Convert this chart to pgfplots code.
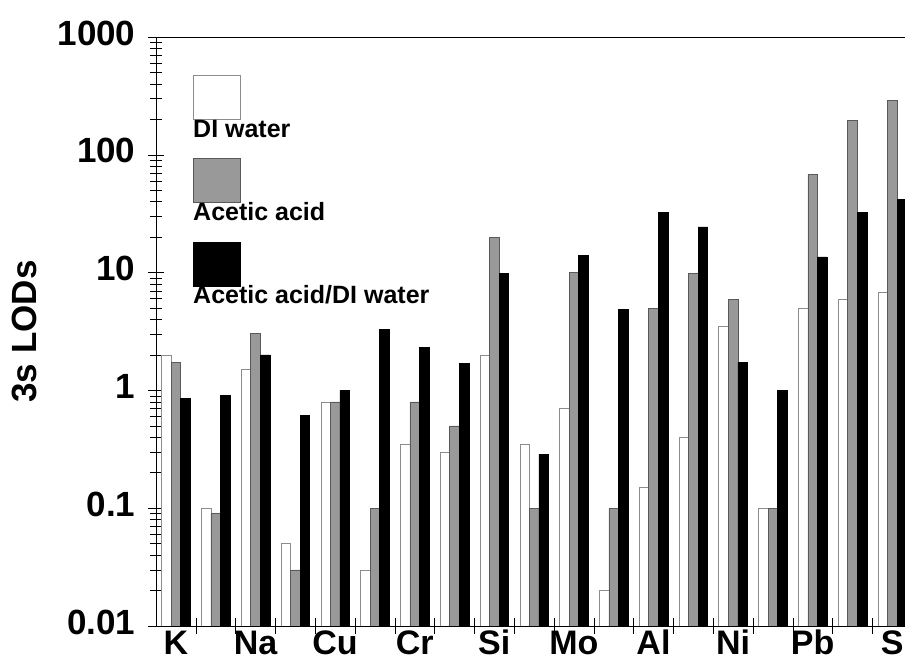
\documentclass[border=0pt]{standalone}
\usepackage{fontspec}
\setmainfont{Liberation Sans}
\usepackage{pgfplots}
\pgfplotsset{compat=1.18}
\definecolor{wedge}{gray}{0.55}
\definecolor{gfill}{gray}{0.6}
\definecolor{gedge}{gray}{0.35}
\begin{document}
\begin{tikzpicture}
\begin{axis}[
  at={(0pt,0pt)}, anchor=south west,
  scale only axis, width=749pt, height=589pt,
  ymode=log, ymin=0.01, ymax=1000, log origin=infty,
  xmin=-0.5, xmax=18.32,
  axis x line=box, axis y line=left,
  axis line style={-, black, line width=0.6pt},
  ybar=0pt, bar width=0.24,
  xtick={0.5,1.5,...,17.5}, xticklabels={},
  extra x ticks={0,2,...,18},
  extra x tick labels={K,Na,Cu,Cr,Si,Mo,Al,Ni,Pb,S},
  extra x tick style={major tick length=0pt,
    tick label style={font=\fontsize{34}{36}\selectfont\bfseries,
      text height=24.3pt, text depth=0pt, inner sep=1pt, anchor=north, yshift=-2.7pt}},
  xtick pos=left, ytick pos=left,
  ytick={0.01,0.1,1,10,100,1000},
  yticklabels={0.01,0.1,1,10,100,1000},
  minor ytick={0.02,0.03,0.04,0.05,0.06,0.07,0.08,0.09,
               0.2,0.3,0.4,0.5,0.6,0.7,0.8,0.9,
               2,3,4,5,6,7,8,9,
               20,30,40,50,60,70,80,90,
               200,300,400,500,600,700,800,900},
  tick align=center, major tick length=16pt, minor tick length=12pt,
  tick style={black, line width=0.5pt},
  yticklabel style={font=\fontsize{35}{38}\selectfont\bfseries, yshift=4pt, xshift=-9pt},
  ylabel={3s LODs},
  ylabel style={font=\fontsize{35}{38}\selectfont\bfseries,
    at={(axis description cs:-0.1756,0.5)}, anchor=center},
]
% DI water
\addplot[fill=white, draw=wedge, line width=0.5pt] coordinates {
 (0,2.0) (1,0.1) (2,1.5) (3,0.05) (4,0.8) (5,0.03) (6,0.35) (7,0.3) (8,2.0)
 (9,0.35) (10,0.7) (11,0.02) (12,0.15) (13,0.4) (14,3.5) (15,0.1) (16,5.0) (17,5.9) (18,6.8)};
% Acetic acid
\addplot[fill=gfill, draw=gedge, line width=0.5pt] coordinates {
 (0,1.72) (1,0.09) (2,3.05) (3,0.03) (4,0.8) (5,0.1) (6,0.8) (7,0.5) (8,19.8)
 (9,0.1) (10,10) (11,0.1) (12,5.0) (13,9.9) (14,5.9) (15,0.1) (16,68) (17,195) (18,290)};
% Acetic acid/DI water
\addplot[fill=black, draw=black, line width=0.5pt] coordinates {
 (0,0.86) (1,0.91) (2,2.0) (3,0.61) (4,1.0) (5,3.3) (6,2.32) (7,1.69) (8,9.9)
 (9,0.286) (10,14.0) (11,4.9) (12,32.5) (13,24.5) (14,1.73) (15,1.0) (16,13.6) (17,32.5) (18,42)};
\end{axis}
% legend
\begin{scope}[font=\fontsize{25}{28}\selectfont\bfseries]
\filldraw[fill=white, draw=wedge, line width=0.6pt] (37pt,507pt) rectangle (84pt,551pt);
\node[anchor=base west, inner sep=0pt] at (37pt,488.7pt) {DI water};
\filldraw[fill=gfill, draw=gedge, line width=0.6pt] (37pt,423.5pt) rectangle (84pt,467.5pt);
\node[anchor=base west, inner sep=0pt] at (37pt,405.3pt) {Acetic acid};
\filldraw[fill=black, draw=black] (37pt,340pt) rectangle (84pt,384pt);
\node[anchor=base west, inner sep=0pt] at (37pt,322pt) {Acetic acid/DI water};
\end{scope}
\pgfresetboundingbox
\path (-156pt,-37pt) rectangle (749pt,626pt);
\end{tikzpicture}
\end{document}
